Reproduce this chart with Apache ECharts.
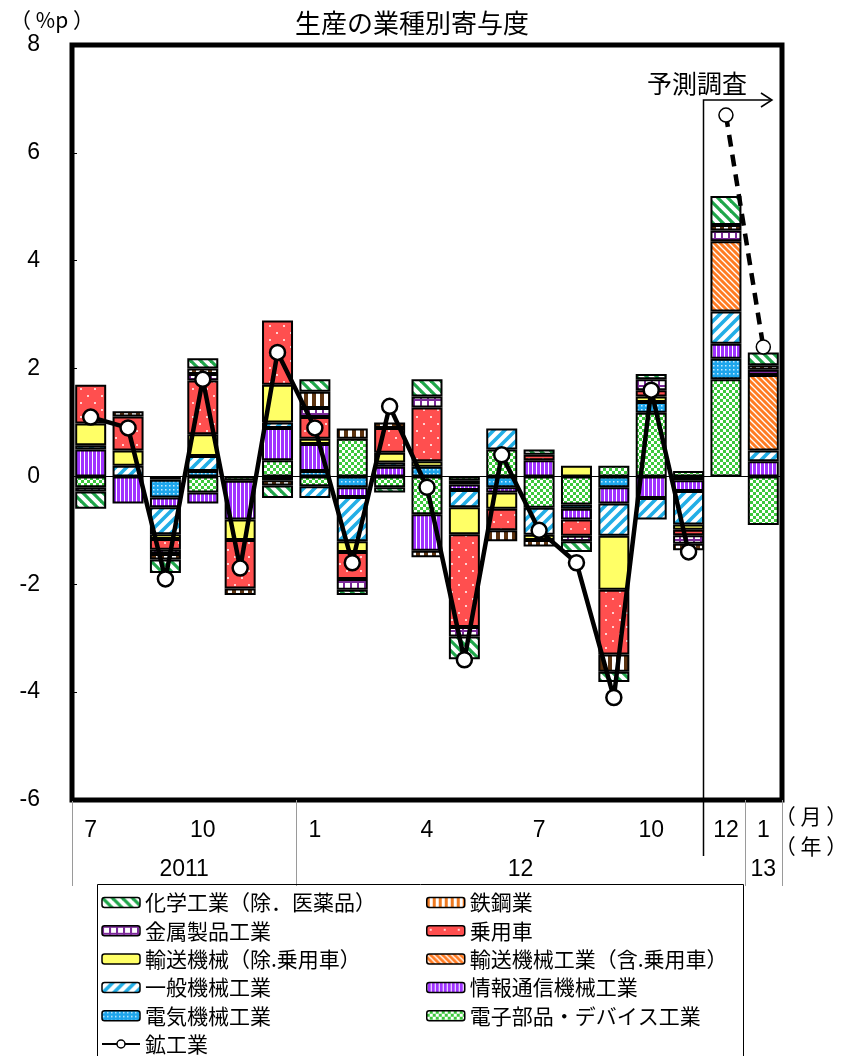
<!DOCTYPE html>
<html>
<head>
<meta charset="utf-8">
<script src="https://cdn.jsdelivr.net/npm/echarts@6/dist/echarts.min.js"></script>
<style>
  html, body { margin: 0; padding: 0; background: #fff; }
  #c { width: 861px; height: 1056px; }
</style>
</head>
<body>
<div id="c"></div>
<script>
// Months on the category axis (2011/7 … 2013/1)
const months = ['7','8','9','10','11','12','1','2','3','4','5','6','7','8','9','10','11','12','1'];
// Months whose label is printed under the axis
const labelledMonths = [0, 3, 6, 9, 12, 15, 17, 18];
// Year labels and the month index range each one spans
const yearLabels = ['2011', '12', '13'];
const yearFirst = [0, 6, 18];
const yearLast = [5, 17, 18];
// Y axis ticks
const yTicks = [-6, -4, -2, 0, 2, 4, 6, 8];

// Contributions by industry (%p); null = no contribution drawn
const chem      = [-0.32, null, -0.25, 0.19, null, -0.23, 0.23, -0.1, -0.1, 0.32, -0.42, null, 0.1, -0.2, -0.19, 0.1, null, 0.54, 0.24];
const steel     = [null, 0.1, -0.1, 0.1, -0.12, -0.1, 0.3, 0.19, 0.1, -0.12, null, -0.2, -0.12, null, -0.32, null, -0.12, 0.1, 0.08];
const metal     = [-0.08, null, -0.08, 0.12, null, null, 0.17, -0.2, null, 0.2, -0.18, null, null, -0.1, null, 0.2, -0.16, 0.2, 0.1];
const car       = [0.72, 0.63, -0.2, 1.0, -0.9, 1.19, 0.4, -0.5, 0.46, 1.0, -1.72, -0.4, 0.1, -0.3, -1.2, 0.12, -0.1, null, null];
const transEx   = [0.4, 0.28, -0.09, 0.4, -0.38, 0.7, 0.1, -0.2, 0.18, 0.1, -0.5, -0.3, -0.1, 0.2, -1.0, 0.1, -0.1, null, null];
const transAll  = [null, null, null, null, null, null, null, null, null, null, null, null, null, null, null, null, null, 1.3, 1.4];
const general   = [0.08, 0.2, -0.5, 0.28, null, 0.1, -0.22, -0.82, 0.08, null, -0.32, 0.39, -0.5, null, -0.6, -0.4, -0.62, 0.6, 0.2];
const ict       = [0.5, -0.5, -0.18, -0.2, -0.72, 0.6, 0.5, -0.18, 0.18, -0.68, -0.1, -0.1, 0.3, -0.2, -0.3, -0.4, -0.2, 0.28, 0.28];
const electric  = [null, null, -0.33, 0.1, null, -0.07, 0.1, -0.2, null, 0.18, -0.07, -0.2, null, -0.08, -0.2, 0.2, -0.07, 0.38, null];
const electron  = [-0.2, null, -0.06, -0.3, -0.08, 0.3, -0.18, 0.7, -0.2, -0.7, -0.08, 0.5, -0.58, -0.52, 0.2, 1.18, 0.1, 1.8, -0.9];
// Mining & manufacturing total: results, then survey forecast
const mining    = [1.1, 0.9, -1.9, 1.8, -1.7, 2.3, 0.9, -1.6, 1.3, -0.2, -3.4, 0.4, -1.0, -1.6, -4.1, 1.6, -1.4, null, null];
const forecast  = [null, null, null, null, null, null, null, null, null, null, null, null, null, null, null, null, null, 6.7, 2.4];

const NUM = "'Liberation Sans Narrow', 'Liberation Sans', Arial, sans-serif";
const JP = "'Noto Sans CJK JP', 'Noto Sans', sans-serif";

// ---- fill patterns ----
function tile(size, draw) {
  const c = document.createElement('canvas');
  c.width = size; c.height = size;
  const g = c.getContext('2d');
  draw(g, size);
  return { image: c, repeat: 'repeat' };
}
function stripes(fg, bg, size, lw, dir) {
  return tile(size, (g, s) => {
    g.fillStyle = bg; g.fillRect(0, 0, s, s);
    g.strokeStyle = fg; g.lineWidth = lw; g.lineCap = 'square';
    for (let k = -1; k <= 1; k++) {
      g.beginPath();
      if (dir === '\\') { g.moveTo(k * s, 0); g.lineTo(k * s + s, s); }
      else { g.moveTo(k * s, s); g.lineTo(k * s + s, 0); }
      g.stroke();
    }
  });
}
function vstripes(fg, bg, size, w) {
  return tile(size, (g, s) => {
    g.fillStyle = bg; g.fillRect(0, 0, s, s);
    g.fillStyle = fg; g.fillRect(0, 0, w, s);
  });
}
const patChem = stripes('#1fa64a', '#ffffff', 10, 3.2, '\\');
const patSteel = vstripes('#5c3310', '#ffffff', 8, 4);
const patSteelKey = vstripes('#ee7a22', '#ffffff', 6, 3);
const patMetal = tile(7, (g, s) => {
  g.fillStyle = '#ffffff'; g.fillRect(0, 0, s, s);
  g.fillStyle = '#7b2a98';
  g.fillRect(0, 0, 2, s); g.fillRect(0, 0, s, 2);
});
const patCar = tile(14, (g, s) => {
  g.fillStyle = '#ff4f4f'; g.fillRect(0, 0, s, s);
  g.fillStyle = '#ffd0d0';
  g.fillRect(3, 3, 2, 2); g.fillRect(10, 10, 2, 2);
});
const patTransEx = '#ffff66';
const patTransAll = stripes('#ffffff', '#ff7b22', 6, 1.3, '\\');
const patGeneral = stripes('#22aee6', '#ffffff', 11, 3.6, '/');
const patIct = vstripes('#ffffff', '#a033ff', 4, 1);
const patElectric = tile(4, (g, s) => {
  g.fillStyle = '#1ea6ec'; g.fillRect(0, 0, s, s);
  g.fillStyle = '#c8ecff'; g.fillRect(1, 1, 1.5, 1.5);
});
const patElectron = tile(6, (g, s) => {
  g.fillStyle = '#3cc83c'; g.fillRect(0, 0, s, s);
  g.fillStyle = '#ffffff';
  g.fillRect(0, 0, 3, 3); g.fillRect(3, 3, 3, 3);
});

// stacking order, bottom first
const barDefs = [
  ['電子部品・デバイス工業', electron, patElectron],
  ['電気機械工業', electric, patElectric],
  ['情報通信機械工業', ict, patIct],
  ['一般機械工業', general, patGeneral],
  ['輸送機械工業（含.乗用車）', transAll, patTransAll],
  ['輸送機械（除.乗用車）', transEx, patTransEx],
  ['乗用車', car, patCar],
  ['金属製品工業', metal, patMetal],
  ['鉄鋼業', steel, patSteel],
  ['化学工業（除．医薬品）', chem, patChem]
];

const series = barDefs.map(([name, data, fill], i) => ({
  name, type: 'bar', stack: 'total', data,
  barWidth: 31,
  itemStyle: { color: fill, borderColor: '#000', borderWidth: 2 },
  z: 2
}));
series[0].markLine = {
  silent: true, symbol: 'none', label: { show: false },
  lineStyle: { color: '#000', width: 1, type: 'solid' },
  data: [{ yAxis: 0 }]
};
series.push({
  name: '鉱工業', type: 'line', data: mining, z: 5,
  symbol: 'circle', symbolSize: 15, connectNulls: false,
  lineStyle: { color: '#000', width: 4.5 },
  itemStyle: { color: '#fff', borderColor: '#000', borderWidth: 2.5 }
});
series.push({
  name: '鉱工業（予測調査）', type: 'line', data: forecast, z: 5,
  symbol: 'circle', symbolSize: 14,
  lineStyle: { color: '#000', width: 4.5, type: [12, 8] },
  itemStyle: { color: '#fff', borderColor: '#000', borderWidth: 1.5 }
});

const keyStyle = { fontFamily: JP, fontSize: 21, color: '#000', lineHeight: 21 };
const legendLeft = ['化学工業（除．医薬品）', '金属製品工業', '輸送機械（除.乗用車）', '一般機械工業', '電気機械工業', '鉱工業'];
const legendRight = [{ name: '鉄鋼業', itemStyle: { color: patSteelKey } }, '乗用車', '輸送機械工業（含.乗用車）', '情報通信機械工業', '電子部品・デバイス工業'];
const legendCommon = {
  orient: 'vertical', itemWidth: 38, itemHeight: 10, itemGap: 7.3,
  textStyle: keyStyle, selectedMode: false, padding: 0,
  itemStyle: { borderColor: '#000', borderWidth: 1.5 }
};

const chart = echarts.init(document.getElementById('c'));
chart.setOption({
  animation: false,
  backgroundColor: '#fff',
  title: {
    text: '生産の業種別寄与度', left: 407, top: 5, textAlign: 'center',
    textStyle: { fontFamily: JP, fontSize: 26, fontWeight: 'normal', color: '#000' }
  },
  grid: {
    left: 72, top: 45, width: 710, height: 755,
    show: true, borderColor: '#000', borderWidth: 5, backgroundColor: 'transparent'
  },
  legend: [
    Object.assign({ left: 101, top: 892, data: legendLeft }, legendCommon),
    Object.assign({ left: 426, top: 892, data: legendRight }, legendCommon)
  ],
  xAxis: {
    type: 'category', data: months,
    axisLine: { show: false }, axisTick: { show: false },
    axisLabel: {
      interval: (i) => labelledMonths.indexOf(i) >= 0,
      margin: 19, fontFamily: NUM, fontSize: 23, color: '#000'
    },
    splitLine: { show: false }
  },
  yAxis: {
    type: 'value', min: yTicks[0], max: yTicks[yTicks.length - 1], interval: 2,
    axisLine: { show: false },
    axisTick: { show: true, inside: true, length: 5, lineStyle: { color: '#000', width: 1 } },
    axisLabel: { margin: 32, fontFamily: NUM, fontSize: 23, color: '#000' },
    splitLine: { show: false }
  },
  series
});

// annotations placed from the category scale
const px = (i) => chart.convertToPixel({ xAxisIndex: 0 }, i);
const half = (px(1) - px(0)) / 2;
const axisBottom = 800;
const g = [];
const sep = [px(0) - half, px(yearLast[0]) + half, px(yearLast[1]) + half, px(yearLast[2]) + half];
sep.forEach(x => g.push({
  type: 'line', silent: true,
  shape: { x1: Math.round(x) + 0.5, y1: axisBottom, x2: Math.round(x) + 0.5, y2: 886 },
  style: { stroke: '#9a9a9a', lineWidth: 1 }
}));
yearLabels.forEach((t, k) => g.push({
  type: 'text', silent: true,
  x: (px(yearFirst[k]) + px(yearLast[k])) / 2, y: 870,
  style: { text: t, fontFamily: NUM, fontSize: 23, fill: '#000', align: 'center', verticalAlign: 'middle' }
}));
g.push({
  type: 'text', silent: true, x: 811, y: 816,
  style: { text: '（ 月 ）', fontFamily: JP, fontSize: 21, fill: '#000', align: 'center', verticalAlign: 'middle' }
});
g.push({
  type: 'text', silent: true, x: 811, y: 846,
  style: { text: '（ 年 ）', fontFamily: JP, fontSize: 21, fill: '#000', align: 'center', verticalAlign: 'middle' }
});
g.push({
  type: 'text', silent: true, x: 52, y: 20,
  style: { text: '（ %p ）', fontFamily: JP, fontSize: 21, fill: '#000', align: 'center', verticalAlign: 'middle' }
});
// forecast-survey bracket
const fx = Math.round(px(16) + 14) + 0.5;
g.push({
  type: 'polyline', silent: true, z: 10,
  shape: { points: [[fx, 856], [fx, 100], [772, 100]] },
  style: { stroke: '#000', lineWidth: 1.5, fill: null }
});
g.push({
  type: 'polyline', silent: true, z: 10,
  shape: { points: [[761, 93], [772, 100], [761, 107]] },
  style: { stroke: '#000', lineWidth: 1.5, fill: null }
});
g.push({
  type: 'text', silent: true, x: 697, y: 83,
  style: { text: '予測調査', fontFamily: JP, fontSize: 25, fill: '#000', align: 'center', verticalAlign: 'middle' }
});
// outline of the key
g.push({
  type: 'rect', silent: true,
  shape: { x: 97.5, y: 884.5, width: 646, height: 200 },
  style: { stroke: '#000', lineWidth: 1, fill: null }
});
chart.setOption({ graphic: g });
</script>
</body>
</html>
